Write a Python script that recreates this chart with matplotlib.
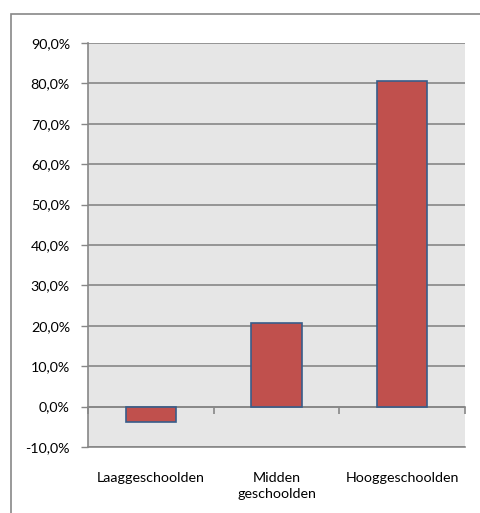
import matplotlib
matplotlib.use("Agg")
import matplotlib.pyplot as plt
from matplotlib.patches import Rectangle
from matplotlib.ticker import FuncFormatter


# -----------------------------
# Data
# -----------------------------

categories = ["Laaggeschoolden", "Midden\ngeschoolden", "Hooggeschoolden"]
values = [-3.7, 20.6, 80.7]          # percent
y_ticks = [-10, 0, 10, 20, 30, 40, 50, 60, 70, 80, 90]


# -----------------------------
# Style
# -----------------------------

plt.rcParams["font.family"] = ["Lato", "DejaVu Sans"]
plt.rcParams["font.size"] = 10.3

bar_color = "#C0504D"
edge_color = "#385D8A"
grid_color = "#878787"
bg_color = "#E6E6E6"


# -----------------------------
# Plot
# -----------------------------

fig = plt.figure(figsize=(4.8, 5.13), dpi=100)
ax = fig.add_axes([88 / 480, 66 / 513, 377 / 480, 404 / 513])
ax.set_facecolor(bg_color)

x = list(range(len(categories)))
ax.bar(x, values, width=0.4, color=bar_color, edgecolor=edge_color,
       linewidth=1.2, zorder=3)

ax.set_xlim(-0.5, len(categories) - 0.5)
ax.set_ylim(y_ticks[0], y_ticks[-1])
ax.set_yticks(y_ticks)
ax.yaxis.set_major_formatter(FuncFormatter(lambda v, _: f"{v:.1f}%".replace(".", ",")))
ax.yaxis.grid(True, color=grid_color, linewidth=1.2, zorder=1)

ax.set_xticks(x)
ax.set_xticklabels(categories, linespacing=1.4)
ax.tick_params(axis="x", length=0, pad=18)
ax.tick_params(axis="y", length=5, color=grid_color, width=1, pad=8)

for side in ["top", "right"]:
    ax.spines[side].set_visible(False)
for side in ["left", "bottom"]:
    ax.spines[side].set_color(grid_color)
    ax.spines[side].set_linewidth(1.2)

# zero line with category boundary ticks
zero_frac = (0 - y_ticks[0]) / (y_ticks[-1] - y_ticks[0])
sec = ax.secondary_xaxis(zero_frac)
sec.set_xticks([-0.5, 0.5, 1.5, 2.5])
sec.set_xticklabels([])
sec.tick_params(axis="x", length=5, color=grid_color, width=1.2, direction="out")
sec.spines["bottom"].set_color(grid_color)
sec.spines["bottom"].set_linewidth(1.2)
sec.spines["bottom"].set_zorder(4)

# outer chart border (cut off at right and bottom)
fig.patches.append(Rectangle((11 / 480, -0.1), 1.2, (513 - 14) / 513 + 0.1,
                             transform=fig.transFigure, fill=False,
                             edgecolor=grid_color, linewidth=1.2))

fig.savefig("out.png", dpi=100)
